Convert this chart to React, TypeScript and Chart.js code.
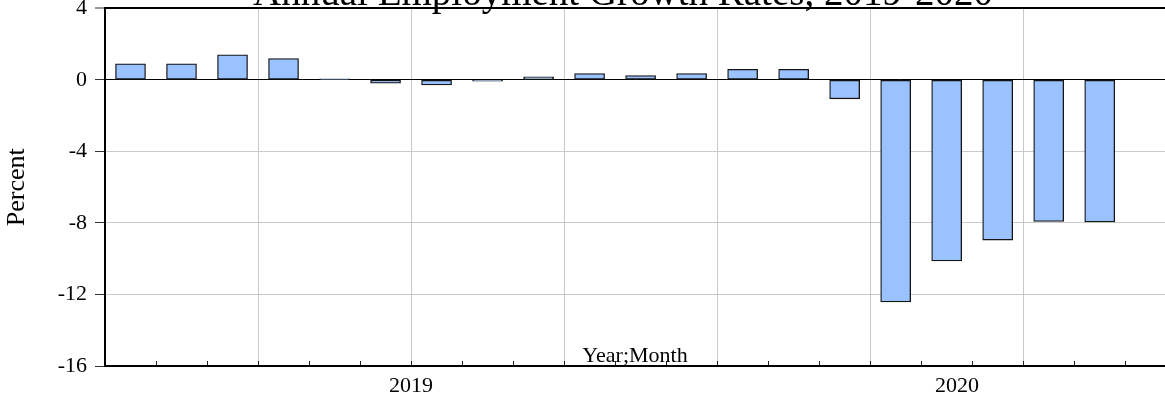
import React, { useEffect, useRef } from 'react';
import { Chart, registerables } from 'chart.js';

Chart.register(...registerables);

// ---- data -------------------------------------------------------------
const months = [
  '2019M01', '2019M02', '2019M03', '2019M04', '2019M05', '2019M06',
  '2019M07', '2019M08', '2019M09', '2019M10', '2019M11', '2019M12',
  '2020M01', '2020M02', '2020M03', '2020M04', '2020M05', '2020M06',
  '2020M07', '2020M08',
];
const growth = [
  0.90, 0.90, 1.40, 1.19, 0.05, -0.19, -0.28, -0.07, 0.17, 0.35,
  0.24, 0.35, 0.59, 0.59, -1.06, -12.42, -10.13, -8.96, -7.92, -7.95,
];
const years = ['2019', '2020'];
const yTickValues = [4, 0, -4, -8, -12, -16];
const titleText = 'Annual Employment Growth Rates, 2019-2020';
const yTitleText = 'Percent';
const xTitleText = 'Year;Month';

// ---- axis geometry (in months) -----------------------------------------
const AXIS_END = 21.4; // full extent of the (cropped) time-axis frame
const X_MAX = 20.78; // visible part of the time axis
const QUARTER = 3;
const TITLE_SHIFT = -12; // px, title is centred on the uncropped frame

const yearCenters = years.map((y, k) => {
  const start = months.findIndex((m) => m.startsWith(y));
  const next = k + 1 < years.length ? months.findIndex((m) => m.startsWith(years[k + 1])) : AXIS_END;
  return (start + next) / 2;
});

const FONT = "'Liberation Serif', 'Times New Roman', serif";
const isInt = (v: number) => Math.abs(v - Math.round(v)) < 1e-9;

const titleShiftPlugin = {
  id: 'titleShift',
  afterLayout(chart: any) {
    const t = chart.titleBlock;
    if (t) {
      t.left += TITLE_SHIFT;
      t.right += TITLE_SHIFT;
    }
  },
};

export default function App() {
  const ref = useRef<HTMLCanvasElement | null>(null);

  useEffect(() => {
    if (!ref.current) return;
    const points = growth.map((v, i) => ({ x: i + 0.5, y: v }));
    const chart = new Chart(ref.current, {
      type: 'bar',
      data: {
        labels: months,
        datasets: [
          {
            data: points as any,
            backgroundColor: 'rgb(153,194,255)',
            borderColor: '#141414',
            borderWidth: 1.3,
            borderSkipped: false,
            barThickness: 30,
          },
        ],
      },
      plugins: [titleShiftPlugin],
      options: {
        responsive: false,
        animation: false,
        devicePixelRatio: 1,
        layout: { padding: 0 },
        plugins: {
          legend: { display: false },
          tooltip: { enabled: false },
          title: {
            display: true,
            text: titleText,
            fullSize: false,
            color: '#000',
            font: { family: FONT, size: 39, weight: 'normal', lineHeight: 0.7 },
            padding: 0,
          },
        },
        scales: {
          x: {
            type: 'linear',
            offset: false,
            min: 0,
            max: X_MAX,
            afterBuildTicks: (scale: any) => {
              const vals: number[] = [];
              for (let i = 1; i <= months.length; i++) vals.push(i);
              yearCenters.forEach((c) => {
                if (!vals.some((v) => Math.abs(v - c) < 1e-9)) vals.push(c);
              });
              vals.sort((a, b) => a - b);
              scale.ticks = vals.map((v) => ({ value: v }));
            },
            afterFit: (scale: any) => {
              scale.height = 36;
            },
            ticks: {
              autoSkip: false,
              maxRotation: 0,
              minRotation: 0,
              padding: 14,
              color: '#000',
              font: { family: FONT, size: 22, lineHeight: 1 },
              callback: (value: any) => {
                const k = yearCenters.findIndex((c) => Math.abs(c - Number(value)) < 1e-9);
                return k >= 0 ? years[k] : '';
              },
            },
            grid: {
              offset: false,
              drawTicks: true,
              tickLength: -5,
              lineWidth: 1,
              tickWidth: 1,
              color: (ctx: any) => {
                const v = ctx.tick ? ctx.tick.value : NaN;
                return isInt(v) && Math.round(v) % QUARTER === 0 ? '#cacaca' : 'rgba(0,0,0,0)';
              },
              tickColor: (ctx: any) => {
                const v = ctx.tick ? ctx.tick.value : NaN;
                return isInt(v) ? '#222' : 'rgba(0,0,0,0)';
              },
            },
            border: { display: true, color: '#000', width: 2 },
            title: {
              display: true,
              text: xTitleText,
              color: '#000',
              font: { family: FONT, size: 22, lineHeight: 1 },
              padding: { top: 0, bottom: 35 },
            },
          },
          y: {
            min: -16,
            max: 4,
            afterBuildTicks: (scale: any) => {
              scale.ticks = [...yTickValues].sort((a, b) => a - b).map((v) => ({ value: v }));
            },
            afterFit: (scale: any) => {
              scale.width = 105;
            },
            ticks: {
              padding: 8,
              color: '#000',
              font: { family: FONT, size: 22, lineHeight: 1 },
            },
            grid: {
              drawTicks: true,
              tickLength: 10,
              tickWidth: 1,
              tickColor: '#333',
              color: (ctx: any) => {
                const v = ctx.tick ? ctx.tick.value : NaN;
                return v === 0 || v === 4 ? '#000' : '#cacaca';
              },
              lineWidth: (ctx: any) => {
                const v = ctx.tick ? ctx.tick.value : NaN;
                return v === 4 ? 2 : 1;
              },
            },
            border: { display: true, color: '#000', width: 2 },
            title: {
              display: true,
              text: yTitleText,
              color: '#000',
              font: { family: FONT, size: 26, lineHeight: 1 },
              padding: { top: 4, bottom: 0 },
            },
          },
        },
      },
    });
    return () => chart.destroy();
  }, []);

  return (
    <div
      style={{
        position: 'fixed',
        left: 0,
        top: 0,
        width: 1165,
        height: 402,
        overflow: 'hidden',
        background: '#fff',
      }}
    >
      <canvas
        ref={ref}
        width={1165}
        height={421}
        style={{ position: 'absolute', left: 0, top: -19, width: 1165, height: 421, display: 'block' }}
      />
    </div>
  );
}
